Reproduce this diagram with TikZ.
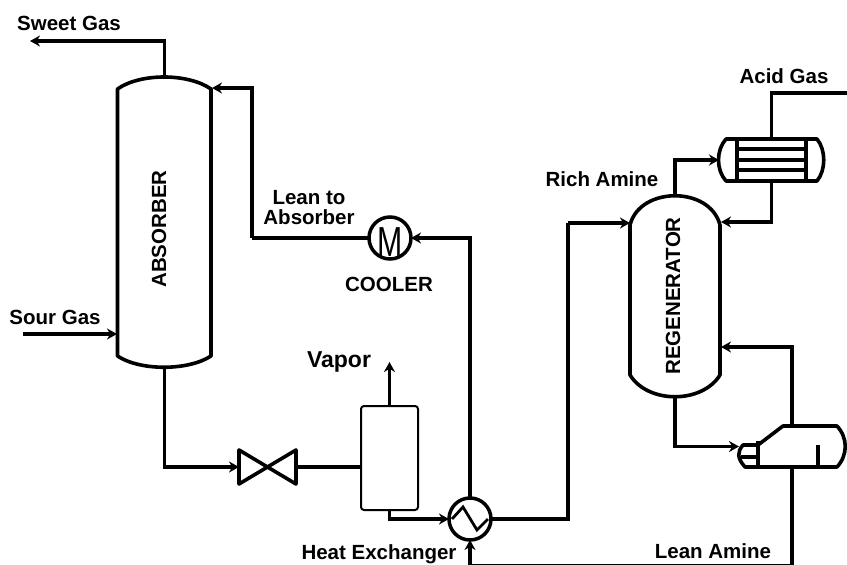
\documentclass[tikz,border=0pt]{standalone}
\usepackage{fontspec}
\usetikzlibrary{arrows.meta}
\setmainfont{Liberation Sans}
\tikzset{
    pipe/.style={line width=3.5pt},
    wall/.style={line width=3.6pt, line join=round},
    body/.style={rectangle, draw=none, inner sep=0pt, outer sep=0pt},
    tag/.style={inner sep=0pt, align=center},
    exchanger/.style={circle, draw=black, line width=3.5pt, minimum size=42pt, inner sep=0pt, outer sep=0pt}
}
\begin{document}
\begin{tikzpicture}
        [x=1pt, y=-1pt, font=\fontsize{20.5}{20}\selectfont\bfseries, >={Stealth[length=10pt, width=11pt]}]

        \useasboundingbox (0, 0) rectangle (847, 565);

        % vessels
        \node[body, minimum width=93.5pt, minimum height=290pt] (absorber) at (164.25, 222) {};
        \node[tag] (absorber_text) at (159, 229) {\rotatebox{90}{ABSORBER}};
        \draw[wall] (117.5, 89) .. controls (140, 73) and (188, 73) .. (211, 89) -- (211, 356)
            .. controls (188, 371) and (140, 371) .. (117.5, 356) -- cycle;

        \node[body, minimum width=90pt, minimum height=201pt] (regenerator) at (675, 296.5) {};
        \node[tag] (regenerator_text) at (673, 296) {\rotatebox{90}{REGENERATOR}};
        \draw[wall] (630, 225) .. controls (640, 186) and (710, 186) .. (720, 225) -- (720, 375)
            .. controls (702, 404) and (648, 404) .. (630, 375) -- cycle;

        \node[rectangle, draw=black, line width=2pt, rounded corners=3pt, minimum width=57pt, minimum height=104pt, outer sep=0pt] (flash) at (389.5, 458) {};

        % valve
        \node[body, minimum width=57pt, minimum height=34pt] (valve) at (267.5, 467) {};
        \draw[wall] (valve.south west) -- (valve.north west) -- (valve.south east) -- (valve.north east) -- cycle;

        % cooler and heat exchanger
        \node[exchanger] (cooler) at (390, 238) {};
        \node[tag] (cooler_m) at (390, 242) {\fontsize{42}{42}\selectfont\mdseries\scalebox{0.72}[1]{M}};
        \node[exchanger] (hx) at (470, 519) {};
        \draw[line width=2.8pt] (452, 519) -- (463, 507) -- (477, 530) -- (488, 519);

        % condenser
        \node[body, minimum width=105pt, minimum height=42pt] (condenser) at (771.5, 160) {};
        \draw[wall] (726, 139) -- (817, 139) .. controls (826, 150) and (826, 170) .. (817, 181)
            -- (726, 181) .. controls (716, 170) and (716, 150) .. (726, 139) -- cycle;
        \draw[wall] (737, 139) -- (737, 181);
        \draw[wall] (806, 139) -- (806, 181);
        \foreach \y in {149, 160, 170} {
            \draw[pipe] (737, \y) -- (806, \y);
        }

        % reboiler
        \node[body, minimum width=106pt, minimum height=41pt] (reboiler) at (792, 446.5) {};
        \draw[wall] (758, 445) -- (783, 426) -- (837, 426) .. controls (848, 438) and (848, 455) .. (837, 467)
            -- (745, 467) .. controls (737, 458) and (737, 452) .. (743, 445) -- (758, 445);
        \draw[wall] (758, 441) -- (758, 467);
        \draw[wall] (741, 457) -- (758, 457);
        \draw[wall] (818, 445) -- (818, 467);

        % free ends and bends
        \coordinate (sweet_out) at (30, 41);
        \coordinate (sour_in) at (23, 334);
        \coordinate (lean_in) at (212, 88);
        \coordinate (lean_bend) at (252, 238);
        \coordinate (vapor_out) at (389.5, 362);
        \coordinate (rich_in) at (630, 223);
        \coordinate (rich_bend) at (568, 223);
        \coordinate (reflux_in) at (721, 222);
        \coordinate (boilup_in) at (721, 347);
        \coordinate (acid_out) at (847, 93);
        \coordinate (amine_bend) at (792, 566);
        \coordinate (sour_end) at (117, 334);

        % streams
        \draw[->, pipe] (absorber.north) |- (sweet_out);
        \draw[->, pipe] (sour_in) -- (sour_end);
        \draw[->, pipe] (hx) |- (cooler);
        \draw[pipe] (cooler) -- (lean_bend);
        \draw[->, pipe] (lean_bend) |- (lean_in);
        \draw[->, pipe] (absorber.south) |- (valve);
        \draw[pipe] (valve) -- (flash.west |- valve);
        \draw[->, pipe] (flash) -- (vapor_out);
        \draw[->, pipe] (flash.south) |- (hx);
        \draw[pipe] (hx) -| (rich_bend);
        \draw[->, pipe] (rich_bend) -- (rich_in);
        \draw[->, pipe] (regenerator.north) |- (condenser);
        \draw[pipe] (condenser.north) |- (acid_out);
        \draw[->, pipe] (condenser.south) |- (reflux_in);
        \draw[->, pipe] (regenerator.south) |- (reboiler);
        \draw[->, pipe] (reboiler.north) |- (boilup_in);
        \draw[pipe] (reboiler.south) -- (amine_bend);
        \draw[->, pipe] (amine_bend) -| (hx.south);

        % labels
        \node[tag] (sweet_gas) at (69, 23) {Sweet Gas};
        \node[tag] (sour_gas) at (55, 317) {Sour Gas};
        \node[tag] (lean_absorber) at (309, 208) {Lean to\\Absorber};
        \node[tag] (cooler_text) at (389, 284) {COOLER};
        \node[tag, font=\fontsize{23}{23}\selectfont\bfseries] (vapor_text) at (339, 362) {Vapor};
        \node[tag] (hx_text) at (379, 554) {Heat Exchanger};
        \node[tag] (rich_amine) at (602, 179) {Rich Amine};
        \node[tag] (acid_gas) at (784, 76) {Acid Gas};
        \node[tag] (lean_amine) at (713, 551) {Lean Amine};
    \end{tikzpicture}
\end{document}
